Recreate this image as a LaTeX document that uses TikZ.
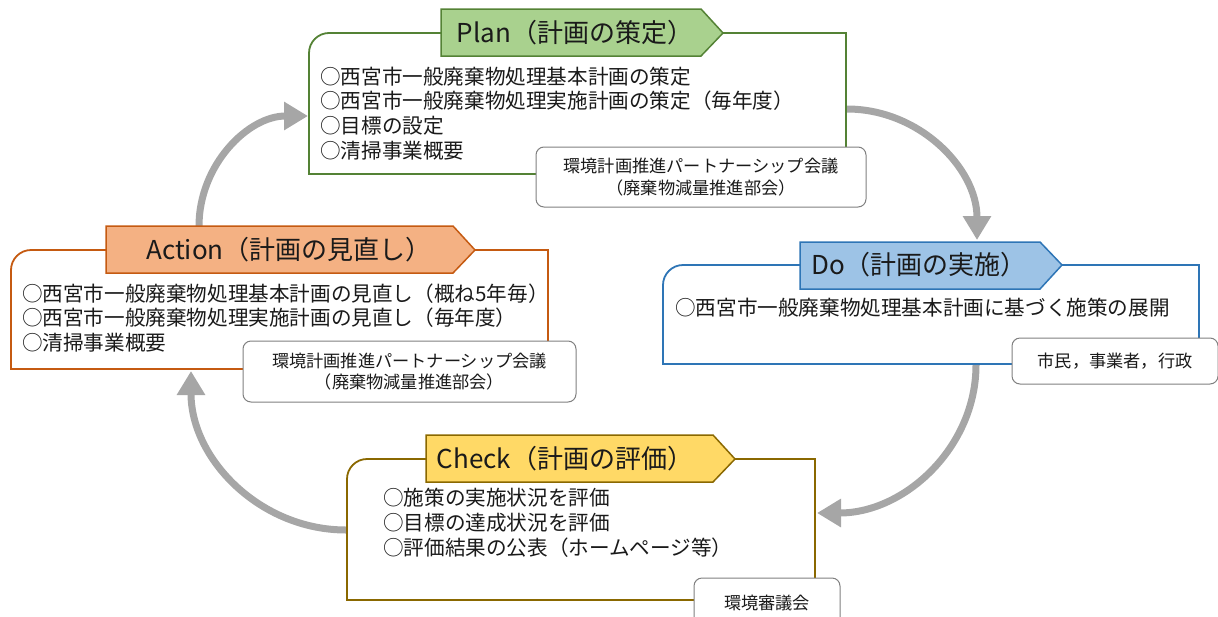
\documentclass[tikz,border=0pt]{standalone}
\usepackage{fontspec}
\setmainfont{Noto Sans CJK JP}
\usetikzlibrary{arrows.meta}
\definecolor{arrowgray}{HTML}{A6A6A6}
\definecolor{subgray}{HTML}{808080}
\definecolor{plandraw}{HTML}{548235}
\definecolor{planfill}{HTML}{A9D18E}
\definecolor{dodraw}{HTML}{2E75B6}
\definecolor{dofill}{HTML}{9DC3E6}
\definecolor{actdraw}{HTML}{C55A11}
\definecolor{actfill}{HTML}{F4B183}
\definecolor{chkdraw}{HTML}{8A6800}
\definecolor{chkfill}{HTML}{FFD966}
\definecolor{txt}{HTML}{1A1A1A}
\tikzset{
  cyc/.style={draw=arrowgray, line width=7pt, -{Triangle[width=27pt,length=24pt]}},
  mainbox/.style={line width=1.8pt, fill=white},
  headbox/.style={line width=1.5pt},
  bodytext/.style={anchor=west, align=left, inner sep=0pt, text=txt, font=\fontsize{20.6}{24.8}\selectfont},
  headtext/.style={inner sep=0pt, text=txt, font=\fontsize{26}{30}\selectfont},
  subbox/.style={draw=subgray, line width=1pt, rounded corners=8pt, fill=white, align=center, text=txt, inner sep=0pt, font=\fontsize{17.2}{21.5}\selectfont},
}
\begin{document}
\begin{tikzpicture}[x=1pt,y=-1pt]
\useasboundingbox (0,0) rectangle (1218,616);

% arrow end points
\coordinate (a1s) at (199,226);
\coordinate (a1e) at (308,116);
\coordinate (a2s) at (847,109);
\coordinate (a2e) at (977,240);
\coordinate (a3s) at (976,365);
\coordinate (a3e) at (817,513);
\coordinate (a4s) at (346,530);
\coordinate (a4e) at (191,371);

% cycle arrows
\draw[cyc] (a1s) .. controls (199,165) and (248,116) .. (a1e);
\draw[cyc] (a2s) .. controls (919,109) and (977,168) .. (a2e);
\draw[cyc] (a3s) .. controls (976,447) and (905,513) .. (a3e);
\draw[cyc] (a4s) .. controls (260,530) and (191,459) .. (a4e);

% ---------- Plan ----------
\draw[mainbox, draw=plandraw] (329,33) -- (846,33) -- (846,174) -- (309,174) -- (309,53) .. controls (309,42) and (318,33) .. (329,33) -- cycle;
\draw[headbox, draw=plandraw, fill=planfill] (441,9) -- (701,9) -- (723,33) -- (701,56) -- (441,56) -- cycle;
\node[headtext] (planh) at (575,33) {Plan（計画の策定）};
\node[bodytext] (planb) at (320,113.5) {○西宮市一般廃棄物処理基本計画の策定\\○西宮市一般廃棄物処理実施計画の策定（毎年度）\\○目標の設定\\○清掃事業概要};
\node[subbox, minimum width=330pt, minimum height=60pt] (plans) at (701,177) {環境計画推進パートナーシップ会議\\（廃棄物減量推進部会）};

% ---------- Do ----------
\draw[mainbox, draw=dodraw] (683,265) -- (1199,265) -- (1199,364) -- (663,364) -- (663,285) .. controls (663,274) and (672,265) .. (683,265) -- cycle;
\draw[headbox, draw=dodraw, fill=dofill] (800,242) -- (1040,242) -- (1062,265) -- (1040,289) -- (800,289) -- cycle;
\node[headtext] (doh) at (919,265) {Do（計画の実施）};
\node[bodytext] (dob) at (675,308) {○西宮市一般廃棄物処理基本計画に基づく施策の展開};
\node[subbox, minimum width=206pt, minimum height=46pt] (dos) at (1115,361) {市民，事業者，行政};

% ---------- Check ----------
\draw[mainbox, draw=chkdraw] (367,459) -- (815,459) -- (815,600) -- (347,600) -- (347,479) .. controls (347,468) and (356,459) .. (367,459) -- cycle;
\draw[headbox, draw=chkdraw, fill=chkfill] (426,435) -- (713,435) -- (735,459) -- (713,482) -- (426,482) -- cycle;
\node[headtext] (chkh) at (565,459) {Check（計画の評価）};
\node[bodytext] (chkb) at (383,523) {○施策の実施状況を評価\\○目標の達成状況を評価\\○評価結果の公表（ホームページ等）};
\node[subbox, minimum width=146pt, minimum height=50pt] (chks) at (767,603) {環境審議会};

% ---------- Action ----------
\draw[mainbox, draw=actdraw] (31,250) -- (548,250) -- (548,369) -- (11,369) -- (11,270) .. controls (11,259) and (20,250) .. (31,250) -- cycle;
\draw[headbox, draw=actdraw, fill=actfill] (106,226) -- (453,226) -- (475,250) -- (453,273) -- (106,273) -- cycle;
\node[headtext] (acth) at (289,250) {Action（計画の見直し）};
\node[bodytext] (actb) at (22,318) {○西宮市一般廃棄物処理基本計画の見直し（概ね5年毎）\\○西宮市一般廃棄物処理実施計画の見直し（毎年度）\\○清掃事業概要};
\node[subbox, minimum width=333pt, minimum height=61pt] (acts) at (409.5,371.5) {環境計画推進パートナーシップ会議\\（廃棄物減量推進部会）};
\end{tikzpicture}
\end{document}
